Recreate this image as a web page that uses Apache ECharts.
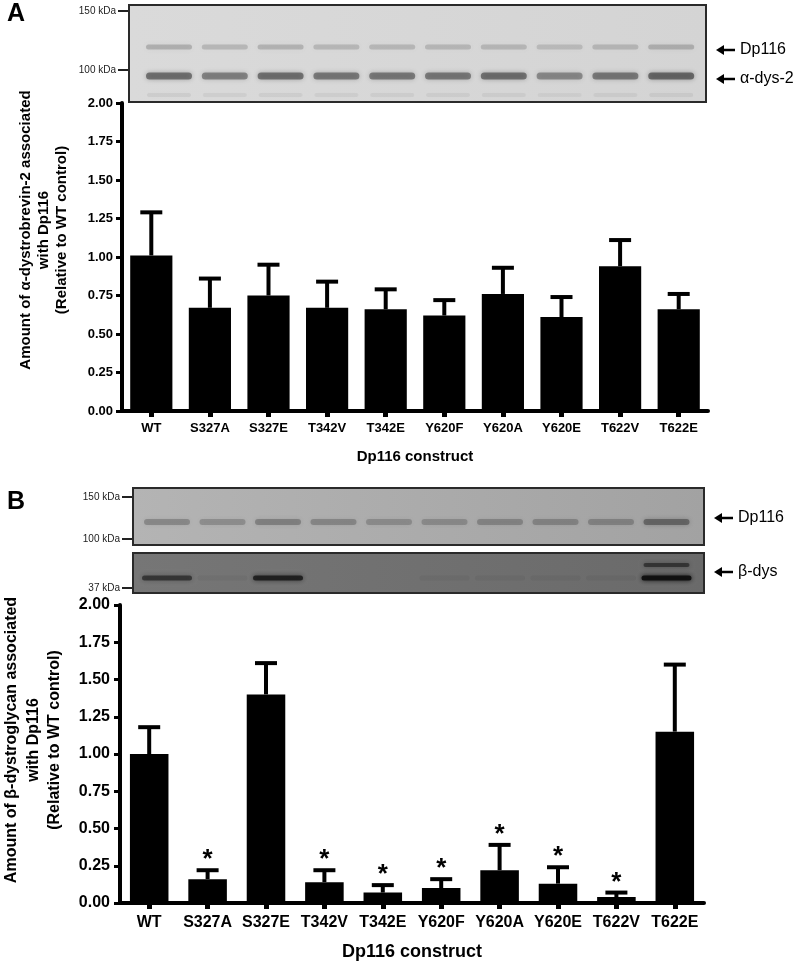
<!DOCTYPE html>
<html>
<head>
<meta charset="utf-8">
<script src="https://cdn.jsdelivr.net/npm/echarts@6/dist/echarts.min.js"></script>
<style>
html,body{margin:0;padding:0;background:#fff;}
#chart{width:800px;height:962px;}
</style>
</head>
<body>
<div id="chart"></div>
<script>
// ---- data ----
const categories = ['WT','S327A','S327E','T342V','T342E','Y620F','Y620A','Y620E','T622V','T622E'];
const alphaMean   = [1.01, 0.67, 0.75, 0.67, 0.66, 0.62, 0.76, 0.61, 0.94, 0.66];
const alphaErrTop = [1.29, 0.86, 0.95, 0.84, 0.79, 0.72, 0.93, 0.74, 1.11, 0.76];
const betaMean    = [1.00, 0.16, 1.40, 0.14, 0.07, 0.10, 0.22, 0.13, 0.04, 1.15];
const betaErrTop  = [1.18, 0.22, 1.61, 0.22, 0.12, 0.16, 0.39, 0.24, 0.07, 1.60];
const betaSignificant = [0, 1, 0, 1, 1, 1, 1, 1, 1, 0];
const alphaSignificant = [0, 0, 0, 0, 0, 0, 0, 0, 0, 0];
// blot band intensities (0..1) per lane
const blotA_dp116 = [0.30, 0.25, 0.28, 0.25, 0.25, 0.25, 0.25, 0.22, 0.25, 0.30];
const blotA_adys2 = [0.60, 0.50, 0.60, 0.55, 0.55, 0.55, 0.60, 0.45, 0.55, 0.65];
const blotB_dp116 = [0.35, 0.30, 0.40, 0.35, 0.30, 0.30, 0.35, 0.35, 0.35, 0.60];
const blotB_bdys  = [0.55, 0.05, 0.75, 0.02, 0.02, 0.05, 0.05, 0.05, 0.05, 0.95];

const FF = '"Liberation Sans", Arial, sans-serif';

function errRender(capHalf, lw, starSize) {
  return function (params, api) {
    const i = api.value(0);
    const p0 = api.coord([i, api.value(1)]);
    const p1 = api.coord([i, api.value(2)]);
    const children = [
      {type:'line', shape:{x1:p0[0], y1:p0[1], x2:p1[0], y2:p1[1]}, style:{stroke:'#000', lineWidth:lw}},
      {type:'line', shape:{x1:p1[0]-capHalf, y1:p1[1], x2:p1[0]+capHalf, y2:p1[1]}, style:{stroke:'#000', lineWidth:lw}}
    ];
    if (api.value(3)) {
      children.push({type:'text', style:{text:'*', x:p1[0], y:p1[1]-10, fill:'#000',
        font:'bold ' + starSize + 'px ' + FF, align:'center', verticalAlign:'middle',
        textAlign:'center', textVerticalAlign:'middle'}});
    }
    return {type:'group', children};
  };
}

// ---- blots as graphic ----
const graphics = [];
function txt(x, y, text, size, opts) {
  opts = opts || {};
  graphics.push({type:'text', x:x, y:y, rotation:opts.rot || 0, silent:true,
    style:{text:text, fill:opts.fill || '#000', font:(opts.weight || 'normal') + ' ' + size + 'px ' + FF,
      align:opts.align || 'left', verticalAlign:'middle', textAlign:opts.align || 'left', textVerticalAlign:'middle'}});
}
function arrowLabel(x, y, text, size) {
  graphics.push({type:'polygon', silent:true, shape:{points:[[x,y],[x+8,y-5],[x+8,y+5]]}, style:{fill:'#000'}});
  graphics.push({type:'line', silent:true, shape:{x1:x+6, y1:y, x2:x+19, y2:y}, style:{stroke:'#000', lineWidth:2.5}});
  txt(x + 24, y, text, size);
}
function marker(xEnd, y, text) {
  graphics.push({type:'line', silent:true, shape:{x1:xEnd-10, y1:y, x2:xEnd, y2:y}, style:{stroke:'#222', lineWidth:2}});
  txt(xEnd - 12, y, text, 10, {align:'right', fill:'#222'});
}
function box(x, y, w, h, c1, c2) {
  graphics.push({type:'rect', silent:true, shape:{x:x, y:y, width:w, height:h},
    style:{fill:{type:'linear', x:0, y:0, x2:1, y2:0, colorStops:[{offset:0, color:c1},{offset:1, color:c2}]},
      stroke:'#2a2a2a', lineWidth:2}});
}
function bands(x0, laneStep, laneW, y, h, vals, base) {
  vals.forEach(function (v, i) {
    if (v < 0.04) return;
    const cx = x0 + i * laneStep;
    const a = Math.min(1, v);
    graphics.push({type:'rect', silent:true, shape:{x:cx - laneW/2, y:y - h/2, width:laneW, height:h, r:h/2},
      style:{fill:'rgba(' + base + ',' + a + ')', shadowBlur:5, shadowColor:'rgba(' + base + ',' + a + ')'}});
  });
}

// Panel A blot
box(129, 5, 577, 97, '#dadada', '#d4d4d4');
bands(169, 55.8, 46, 47, 5, blotA_dp116, '90,90,90');
bands(169, 55.8, 46, 76, 7, blotA_adys2, '60,60,60');
bands(169, 55.8, 44, 95, 4, blotA_dp116.map(function(v){return v*0.4;}), '120,120,120');
marker(128, 11, '150 kDa');
marker(128, 70, '100 kDa');
arrowLabel(716, 50, 'Dp116', 16);
arrowLabel(716, 79, 'α-dys-2', 16);
txt(7, 14, 'A', 25, {weight:'bold'});

// Panel B blots
box(133, 488, 571, 57, '#b4b4b4', '#a2a2a2');
bands(167, 55.5, 46, 522, 6, blotB_dp116, '70,70,70');
box(133, 553, 571, 40, '#767676', '#6a6a6a');
bands(167, 55.5, 50, 578, 5, blotB_bdys, '15,15,15');
bands(167, 55.5, 46, 565, 4, blotB_bdys.map(function(v){return v > 0.9 ? 0.6 : 0;}), '25,25,25');
marker(132, 497, '150 kDa');
marker(132, 539, '100 kDa');
marker(132, 588, '37 kDa');
arrowLabel(714, 518, 'Dp116', 16);
arrowLabel(714, 572, 'β-dys', 16);
txt(7, 502, 'B', 25, {weight:'bold'});

// Y axis titles
txt(26, 230, 'Amount of α-dystrobrevin-2 associated', 15, {weight:'bold', align:'center', rot:Math.PI/2});
txt(44, 230, 'with Dp116', 15, {weight:'bold', align:'center', rot:Math.PI/2});
txt(62, 230, '(Relative to WT control)', 15, {weight:'bold', align:'center', rot:Math.PI/2});
txt(12, 740, 'Amount of β-dystroglycan associated', 16, {weight:'bold', align:'center', rot:Math.PI/2});
txt(34, 740, 'with Dp116', 16, {weight:'bold', align:'center', rot:Math.PI/2});
txt(55, 740, '(Relative to WT control)', 16, {weight:'bold', align:'center', rot:Math.PI/2});

function yAxisCfg(gi, fs, margin) {
  return {type:'value', gridIndex:gi, min:0, max:2, interval:0.25,
    axisLine:{show:true, lineStyle:{color:'#000', width:4}},
    axisTick:{show:true, length:6, lineStyle:{color:'#000', width:3}},
    splitLine:{show:false},
    axisLabel:{color:'#000', fontFamily:FF, fontWeight:'bold', fontSize:fs, margin:margin,
      formatter:function(v){return v.toFixed(2);}}};
}
function xAxisCfg(gi, fs, margin, nameSize, nameGap) {
  return {type:'category', gridIndex:gi, data:categories,
    name:'Dp116 construct', nameLocation:'middle', nameGap:nameGap,
    nameTextStyle:{color:'#000', fontFamily:FF, fontWeight:'bold', fontSize:nameSize},
    axisLine:{show:true, lineStyle:{color:'#000', width:4}},
    axisTick:{show:true, alignWithLabel:true, length:6, lineStyle:{color:'#000', width:5}},
    axisLabel:{color:'#000', fontFamily:FF, fontWeight:'bold', fontSize:fs, margin:margin, interval:0}};
}

const option = {
  animation:false,
  backgroundColor:'#fff',
  grid:[
    {left:122, top:103, width:586, height:308},
    {left:120, top:605, width:584, height:306}
  ],
  xAxis:[xAxisCfg(0, 13, 11, 15, 38), xAxisCfg(1, 16, 12, 18, 40)],
  yAxis:[yAxisCfg(0, 13, 9), yAxisCfg(1, 16, 10)],
  series:[
    {type:'bar', xAxisIndex:0, yAxisIndex:0, data:alphaMean, barWidth:'72%', itemStyle:{color:'#000'}},
    {type:'custom', xAxisIndex:0, yAxisIndex:0, renderItem:errRender(11, 4, 26),
      encode:{x:0, y:[1,2]},
      data:categories.map(function(c,i){return [i, alphaMean[i], alphaErrTop[i], alphaSignificant[i]];})},
    {type:'bar', xAxisIndex:1, yAxisIndex:1, data:betaMean, barWidth:'66%', itemStyle:{color:'#000'}},
    {type:'custom', xAxisIndex:1, yAxisIndex:1, renderItem:errRender(11, 4, 26),
      encode:{x:0, y:[1,2]},
      data:categories.map(function(c,i){return [i, betaMean[i], betaErrTop[i], betaSignificant[i]];})}
  ],
  graphic:graphics
};
const chart = echarts.init(document.getElementById('chart'), null, {renderer:'canvas'});
chart.setOption(option);
</script>
</body>
</html>
